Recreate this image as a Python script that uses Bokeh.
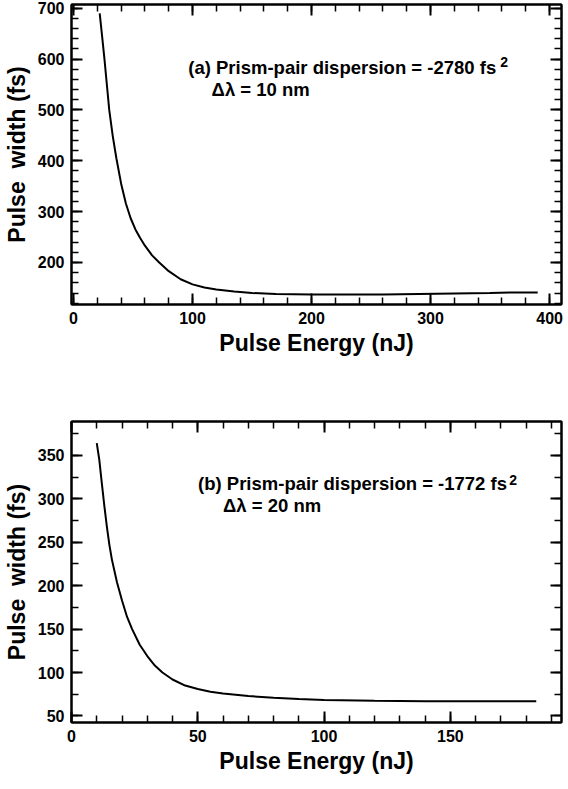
from bokeh.plotting import figure
from bokeh.models import Range1d, LinearAxis, SingleIntervalTicker, Label, CustomLabelingPolicy
from bokeh.layouts import column
from bokeh.embed import file_html
from bokeh.resources import INLINE

# ---- data ----
energy_a = [22, 24, 26, 28, 30, 33, 36, 40, 44, 48, 52, 56, 60, 66, 72, 80, 90,
            100, 110, 120, 135, 150, 170, 200, 230, 260, 290, 320, 350, 370, 390]
width_a = [690, 645, 600, 550, 500, 448, 405, 355, 316, 287, 265, 248, 233, 214, 200, 183, 167,
           157, 151, 147, 143, 140, 138, 137, 137, 137, 138, 139, 140, 141, 141]

energy_b = [10, 11, 12, 13, 14, 15, 16, 18, 20, 22, 24, 27, 30, 33, 36, 40, 45, 50,
            55, 60, 70, 80, 90, 100, 120, 140, 160, 184]
width_b = [364, 345, 318, 292, 268, 247, 230, 204, 183, 164, 150, 132, 119, 108, 100, 92, 85, 81,
           78, 76, 73, 71, 69.5, 68.5, 67.5, 67, 67, 67]

x_label = "Pulse Energy (nJ)"
y_label = "Pulse\u00a0 width (fs)"
text_a = "(a) Prism-pair dispersion = -2780 fs"
text_a2 = "\u0394\u03bb = 10 nm"
text_b = "(b) Prism-pair dispersion = -1772 fs"
text_b2 = "\u0394\u03bb = 20 nm"
sup = "2"

FONT = "Liberation Sans"


def style_axis(ax, labels):
    ax.axis_line_color = "black"
    ax.axis_line_width = 2
    ax.major_tick_in = 11
    ax.major_tick_out = 0
    ax.minor_tick_in = 7
    ax.minor_tick_out = 0
    ax.major_tick_line_width = 2
    ax.minor_tick_line_width = 1.5
    ax.major_tick_line_color = "black"
    ax.minor_tick_line_color = "black"
    if labels:
        ax.major_label_text_font = FONT
        ax.major_label_text_font_style = "bold"
        ax.major_label_text_font_size = "16px"
        ax.major_label_text_color = "black"
        ax.major_label_standoff = 7
        ax.axis_label_text_font = FONT
        ax.axis_label_text_font_style = "bold"
        ax.axis_label_text_font_size = "23px"
        ax.axis_label_text_color = "black"
    else:
        ax.major_label_policy = CustomLabelingPolicy(code="return false")
        ax.major_label_text_font_size = "1px"
        ax.major_label_standoff = 0


def make_panel(xs, ys, xr, yr, xint, yint, xminor, yminor, top, bottom, fh):
    p = figure(frame_width=490, frame_height=fh,
               x_range=Range1d(*xr), y_range=Range1d(*yr),
               x_axis_type=None, y_axis_type=None,
               output_backend="svg", toolbar_location=None,
               min_border_left=67, min_border_right=3,
               min_border_top=top, min_border_bottom=bottom)
    p.outline_line_color = "black"
    p.outline_line_width = 2
    p.background_fill_color = "white"
    p.border_fill_color = "white"
    for place in ["below", "left", "above", "right"]:
        if place in ("below", "above"):
            t = SingleIntervalTicker(interval=xint, num_minor_ticks=xminor)
        else:
            t = SingleIntervalTicker(interval=yint, num_minor_ticks=yminor)
        ax = LinearAxis(ticker=t)
        style_axis(ax, place in ("below", "left"))
        if place == "below":
            ax.axis_label = x_label
            ax.axis_label_standoff = 3
        if place == "left":
            ax.axis_label = y_label
            ax.axis_label_standoff = 5
        p.add_layout(ax, place)
    p.line(xs, ys, line_width=2, line_color="black")
    return p


p1 = make_panel(energy_a, width_a, (-1.7, 410), (117.4, 707.3), 100, 100, 5, 5, 4, 83, 300)
p2 = make_panel(energy_b, width_b, (0, 194), (42.5, 389), 50, 50, 5, 2, 34, 56, 301)


def add_text(p, x, y, txt, size="18.5px"):
    p.add_layout(Label(x=x, y=y, text=txt, text_font=FONT, text_font_style="bold",
                       text_font_size=size, text_color="black", text_baseline="alphabetic"))


add_text(p1, 96.4, 583.4, text_a)
add_text(p1, 116, 540.3, text_a2)
add_text(p1, 358.5, 595, sup, "14px")

add_text(p2, 50.1, 317.4, text_b)
add_text(p2, 60, 292, text_b2)
add_text(p2, 173.3, 321.5, sup, "14px")

layout = column(p1, p2, spacing=0)
open("out.html", "w").write(file_html(layout, INLINE))
